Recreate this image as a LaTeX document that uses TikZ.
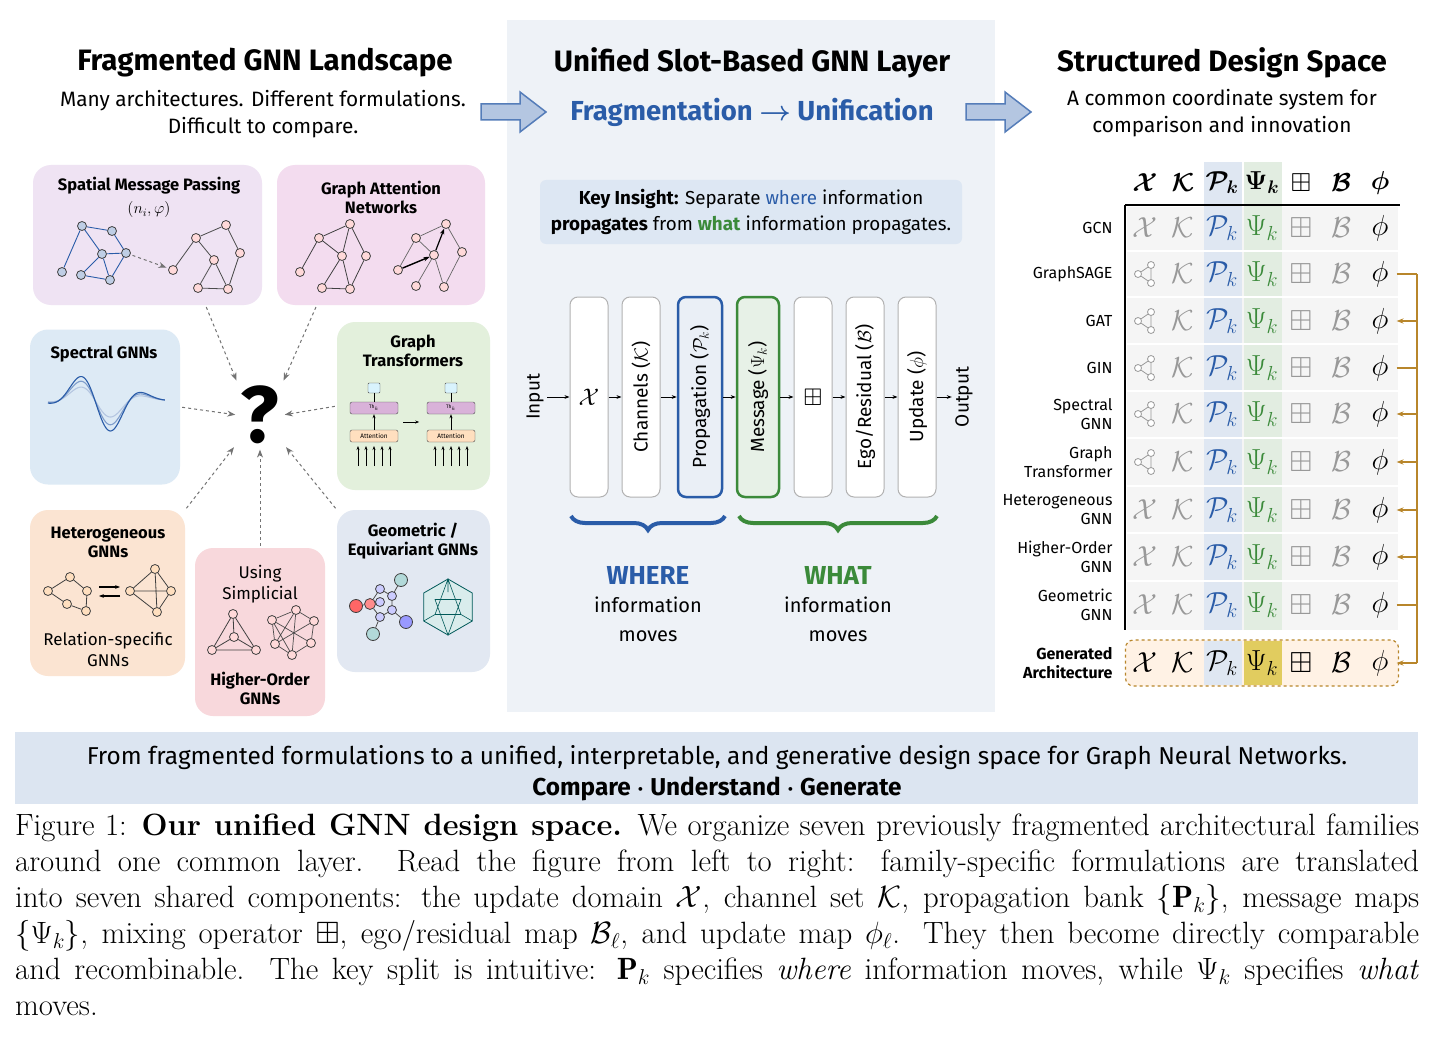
\documentclass[tikz,border=0pt]{standalone}
\usepackage{fix-cm}
\usepackage{amsmath,amssymb}
\usepackage{fontspec}
\newfontfamily\sansf{Fira Sans}
\usepackage{tikz}
\usetikzlibrary{calc,positioning,arrows.meta,decorations.pathreplacing}
\DeclareMathSizes{30.8}{30.8}{21.5}{16}

\definecolor{uniblue}{HTML}{2A5CA8}
\definecolor{unigreen}{HTML}{3B8A3A}
\definecolor{midbg}{HTML}{EEF2F7}
\definecolor{keybg}{HTML}{DDE7F3}
\definecolor{bandbg}{HTML}{DCE5F1}
\definecolor{brn}{HTML}{B8862B}
\definecolor{smpbg}{HTML}{EFE3F3}
\definecolor{gatbg}{HTML}{F3DCEF}
\definecolor{spcbg}{HTML}{DDEAF5}
\definecolor{gtbg}{HTML}{E3F0DC}
\definecolor{hetbg}{HTML}{FBE4D2}
\definecolor{simbg}{HTML}{F8D8DC}
\definecolor{geobg}{HTML}{E2E8F2}

\tikzset{
  lbox/.style={rounded corners=18pt,draw=none,inner sep=0},
  ltitle/.style={font=\sansf\bfseries\fontsize{16.5}{19}\selectfont,align=center},
  gnode/.style={circle,draw=black!75,fill=#1,inner sep=0,minimum size=9pt,line width=0.8pt},
  gnode/.default={red!15},
  dasharr/.style={dashed,line width=1pt,draw=black!55,-{Stealth[length=8pt]},shorten >=2pt,shorten <=2pt},
  bigarr/.style={draw=uniblue!80,fill=uniblue!35,line width=1.5pt},
  slot/.style={rounded corners=8pt,draw=black!30,fill=white,line width=1pt,minimum width=38pt,minimum height=200pt,inner sep=0},
  slab/.style={rotate=90,font=\sansf\fontsize{19}{22}\selectfont},
  sarr/.style={-{Stealth[length=5pt]},line width=0.9pt},
  cell/.style={font=\fontsize{29}{31}\selectfont,text=black!40,inner sep=0},
  rowlab/.style={anchor=east,align=right,font=\sansf\fontsize{16}{19}\selectfont},
  tri/.pic={
    \draw[black!40,line width=0.8pt] (-7,0) -- (6,-9) -- (6,9) -- cycle;
    \foreach \p in {(-7,0),(6,-9),(6,9)} \draw[black!40,fill=white,line width=0.8pt] \p circle (3.5);
  }
}

\begin{document}
\begin{tikzpicture}[x=1pt,y=-1pt]
\useasboundingbox (0,0) rectangle (1440,1043);
\fill[white] (0,0) rectangle (1440,1043);

% middle panel
\fill[midbg] (507,20) rectangle (995,712);

% titles
\node[font=\sansf\bfseries\fontsize{29.5}{32}\selectfont] (ttl) at (265,63) {Fragmented GNN Landscape};
\node[font=\sansf\fontsize{20.8}{27}\selectfont,align=center] (ttlsub) at (263,114) {Many architectures. Different formulations.\\Difficult to compare.};
\node[font=\sansf\bfseries\fontsize{29.5}{32}\selectfont] (mtl) at (752,63) {Unified Slot-Based GNN Layer};
\node[font=\sansf\bfseries\fontsize{27.5}{30}\selectfont,text=uniblue] (mtsub) at (752,112) {Fragmentation $\boldsymbol{\rightarrow}$ Unification};
\node[font=\sansf\bfseries\fontsize{29.5}{32}\selectfont] (rtl) at (1222,63) {Structured Design Space};
\node[font=\sansf\fontsize{20.8}{27}\selectfont,align=center] (rtsub) at (1222,113) {A common coordinate system for\\comparison and innovation};

% big arrows
\draw[bigarr] (481,104) -- (520,104) -- (520,92) -- (546,112) -- (520,132) -- (520,120) -- (481,120) -- cycle;
\draw[bigarr] (966,104) -- (1005,104) -- (1005,92) -- (1031,112) -- (1005,132) -- (1005,120) -- (966,120) -- cycle;

% ---------- left: landscape ----------
\node[lbox,fill=smpbg,minimum width=229pt,minimum height=140pt] (smp) at (147.5,235) {};
\node[ltitle] at (149,186) {Spatial Message Passing};
\node[font=\fontsize{16}{18}\selectfont] at (149,210) {$(n_i,\varphi)$};
\node[gnode=uniblue!30] (a1) at (112,231) {};
\node[gnode=uniblue!30] (a2) at (82,226) {};
\node[gnode=uniblue!30] (a3) at (62,272) {};
\node[gnode=uniblue!30] (a4) at (102,254) {};
\node[gnode=uniblue!30] (a5) at (126,253) {};
\node[gnode=uniblue!30] (a6) at (81,275) {};
\node[gnode=uniblue!30] (a7) at (110,280) {};
\draw[uniblue,line width=0.9pt] (a2) -- (a1) -- (a5) (a2) -- (a3) (a2) -- (a4) -- (a5) (a4) -- (a6) -- (a7) -- (a5) (a4) -- (a7);
\node[gnode] (b1) at (226,225) {};
\node[gnode] (b2) at (196,238) {};
\node[gnode] (b3) at (173,270) {};
\node[gnode] (b4) at (214,260) {};
\node[gnode] (b5) at (240,253) {};
\node[gnode] (b6) at (198,288) {};
\node[gnode] (b7) at (228,289) {};
\draw[black!70,line width=0.8pt] (b2) -- (b1) -- (b5) (b2) -- (b3) (b2) -- (b4) (b4) -- (b6) -- (b7) -- (b5) (b4) -- (b7);
\draw[dasharr] (a5) -- (b3);

\node[lbox,fill=gatbg,minimum width=208pt,minimum height=140pt] (gat) at (381,235) {};
\node[ltitle] at (381,197) {Graph Attention\\Networks};
\node[gnode] (c1) at (350,224) {};
\node[gnode] (c2) at (319,238) {};
\node[gnode] (c3) at (300,272) {};
\node[gnode] (c4) at (342,256) {};
\node[gnode] (c5) at (366,256) {};
\node[gnode] (c6) at (322,288) {};
\node[gnode] (c7) at (350,289) {};
\draw[black!75,line width=0.8pt] (c2) -- (c1) -- (c5) (c2) -- (c3) (c2) -- (c4) -- (c7) (c4) -- (c6) -- (c7) -- (c5) (c1) -- (c4);
\node[gnode] (d1) at (446,224) {};
\node[gnode] (d2) at (416,238) {};
\node[gnode] (d3) at (398,270) {};
\node[gnode] (d4) at (434,255) {};
\node[gnode] (d5) at (462,252) {};
\node[gnode] (d6) at (416,286) {};
\node[gnode] (d7) at (444,287) {};
\draw[black!60,line width=0.7pt] (d2) -- (d1) -- (d5) (d2) -- (d3) (d2) -- (d4) -- (d7) (d4) -- (d6) (d7) -- (d5) (d3) -- (d4);
\draw[-{Stealth[length=6pt]},line width=1.4pt] (d3) -- (d4);
\draw[-{Stealth[length=6pt]},line width=1.2pt] (d4) -- (d1);

\node[lbox,fill=spcbg,minimum width=150pt,minimum height=155pt] (spc) at (105,407) {};
\node[ltitle,anchor=west] at (47,354) {Spectral GNNs};
\foreach \amp/\col in {0.55/uniblue!35,0.8/uniblue!60,1/uniblue} {
  \draw[\col,line width=1.1pt,domain=0:1,samples=80,smooth]
    plot ({48+117*\x},{400-34*\amp*exp(-((\x-0.45)/0.3)^2)*cos(600*(\x-0.25))});
}

\node[lbox,fill=gtbg,minimum width=153pt,minimum height=168pt] (gt) at (413.5,406) {};
\node[ltitle] at (413,351) {Graph\\Transformers};
\foreach \cx/\nm in {374/ga,451/gb} {
  \node[draw=black!70,fill=cyan!15,minimum width=12pt,minimum height=10pt,inner sep=0,rounded corners=1pt] (\nm top) at (\cx,388) {};
  \node[draw=black!70,fill=violet!30,minimum width=48pt,minimum height=12pt,inner sep=0,rounded corners=2pt,font=\sansf\fontsize{5}{6}\selectfont] (\nm th) at (\cx,408) {Th$_k$};
  \node[draw=black!70,fill=orange!25,minimum width=48pt,minimum height=12pt,inner sep=0,rounded corners=2pt,font=\sansf\fontsize{6.5}{7}\selectfont] (\nm att) at (\cx,436) {Attention};
  \draw[line width=0.8pt] (\nm th) -- (\nm top);
  \draw[-{Stealth[length=4pt]},line width=0.8pt] (\nm att) -- (\nm th);
  \foreach \dx in {-16,-8,0,8,16}
    \draw[-{Stealth[length=4pt]},line width=1pt] (\cx+\dx,466) -- (\cx+\dx,446);
}
\draw[-{Stealth[length=4pt]},line width=0.8pt] (gath.east) ++(5,14) -- ++(16,0);

\node[lbox,fill=hetbg,minimum width=155pt,minimum height=166pt] (het) at (107.5,593) {};
\node[ltitle] at (108,542) {Heterogeneous\\GNNs};
\node[gnode=orange!25] (e1) at (70,577) {};
\node[gnode=orange!25] (e2) at (48,591) {};
\node[gnode=orange!25] (e3) at (87,591) {};
\node[gnode=orange!25] (e4) at (67,604) {};
\node[gnode=orange!25] (e5) at (86,611) {};
\draw[black!75,line width=0.8pt] (e2) -- (e1) -- (e3) -- (e5) -- (e4) -- (e2);
\node[gnode=orange!25] (f1) at (155,569) {};
\node[gnode=orange!25] (f2) at (130,591) {};
\node[gnode=orange!25] (f3) at (171,591) {};
\node[gnode=orange!25] (f4) at (157,612) {};
\draw[black!75,line width=0.8pt] (f2) -- (f1) -- (f3) -- (f4) -- (f2) -- (f3) (f1) -- (f4);
\draw[-{Stealth[length=5pt]},line width=1.3pt] (99,587) -- (120,587);
\draw[-{Stealth[length=5pt]},line width=1.3pt] (120,596) -- (99,596);
\node[font=\sansf\fontsize{17}{21}\selectfont,align=center] at (108,649) {Relation-specific\\GNNs};

\node[lbox,fill=simbg,minimum width=130pt,minimum height=168pt] (sim) at (260,632) {};
\node[font=\sansf\fontsize{17}{21}\selectfont,align=center] at (260,584) {Using\\Simplicial};
\node[gnode] (s1) at (233,614) {};
\node[gnode] (s2) at (212,650) {};
\node[gnode] (s3) at (256,650) {};
\node[gnode] (s4) at (234,637) {};
\draw[black!75,line width=0.8pt] (s1) -- (s2) -- (s3) -- (s1) -- (s4) (s2) -- (s4) -- (s3);
\node[gnode] (t1) at (272,620) {};
\node[gnode] (t2) at (296,610) {};
\node[gnode] (t3) at (314,621) {};
\node[gnode] (t4) at (275,644) {};
\node[gnode] (t5) at (311,643) {};
\node[gnode] (t6) at (292,655) {};
\draw[black!70,line width=0.7pt] (t1) -- (t2) -- (t3) -- (t5) -- (t6) -- (t4) -- (t1) (t1) -- (t5) (t2) -- (t4) (t2) -- (t6) (t3) -- (t4) (t1) -- (t6);
\node[ltitle] at (260,688) {Higher-Order\\GNNs};

\node[lbox,fill=geobg,minimum width=153pt,minimum height=162pt] (geo) at (413.5,591) {};
\node[ltitle] at (413,541) {Geometric /\\Equivariant GNNs};
\node[gnode=blue!20] (m0) at (380,602) {};
\node[gnode=blue!20] (m1) at (380,589) {};
\node[gnode=blue!20] (m2) at (392,596) {};
\node[gnode=blue!20] (m3) at (392,610) {};
\node[gnode=blue!20] (m4) at (380,617) {};
\node[gnode=red!45,minimum size=11pt] (m5) at (370,604) {};
\node[gnode=red!60,minimum size=13pt] (m6) at (356,606) {};
\node[gnode=teal!30,minimum size=13pt] (m7) at (373,634) {};
\node[gnode=teal!30,minimum size=13pt] (m8) at (401,580) {};
\node[gnode=blue!40,minimum size=13pt] (m9) at (406,622) {};
\draw[black!70,line width=0.8pt] (m1) -- (m2) -- (m3) -- (m4) -- (m5) -- (m1) (m5) -- (m6) (m4) -- (m7) (m2) -- (m8) (m3) -- (m9);
\coordinate (ic) at (448,607);
\draw[teal!70!black,fill=teal!15,line width=0.8pt] ($(ic)+(90:28)$) \foreach \a in {150,210,...,450} { -- ($(ic)+(\a:28)$) } -- cycle;
\draw[teal!70!black,line width=0.6pt] ($(ic)+(90:28)$) -- ($(ic)+(210:15)$) -- ($(ic)+(330:15)$) -- cycle
  ($(ic)+(270:28)$) -- ($(ic)+(30:15)$) -- ($(ic)+(150:15)$) -- cycle
  ($(ic)+(150:28)$) -- ($(ic)+(150:15)$) ($(ic)+(30:28)$) -- ($(ic)+(30:15)$) ($(ic)+(270:28)$) -- ($(ic)+(270:15)$);

\node[font=\sansf\bfseries\fontsize{80}{80}\selectfont] (qm) at (260,415) {?};
\draw[dasharr] (smp.south) ++(58,0) coordinate (smpo) (smpo) -- (qm.north west);
\draw[dasharr] ($(gat.south west)+(40,0)$) -- (qm.north east);
\draw[dasharr] (spc.east) -- (qm.west);
\draw[dasharr] (gt.west) -- (qm.east);
\draw[dasharr] (het.north east) -- ($(qm.south west)+(-2,-2)$);
\draw[dasharr] (sim.north) -- (qm.south);
\draw[dasharr] (geo.north west) -- ($(qm.south east)+(2,-2)$);

% ---------- middle: slots ----------
\node[fill=keybg,rounded corners=6pt,minimum width=422pt,minimum height=64pt,font=\sansf\fontsize{18.8}{26}\selectfont,align=center] (key) at (751,212)
  {\textbf{Key Insight:} Separate {\color{uniblue}where} information\\\textbf{propagates} from {\color{unigreen}\textbf{what}} information propagates.};

\node[slab] (inp) at (535,397) {Input};
\node[slot] (sx) at (589,397) {};
\node[font=\fontsize{24}{26}\selectfont] at (sx) {$\mathcal{X}$};
\node[slot] (sch) at (641,397) {};
\node[slab] at (sch) {Channels ($\mathcal{K}$)};
\node[slot,draw=uniblue,fill=uniblue!10,line width=2.5pt,minimum width=44pt] (spr) at (700,397) {};
\node[slab] at (spr) {Propagation ($\mathcal{P}_k$)};
\node[slot,draw=unigreen,fill=unigreen!12,line width=2.5pt,minimum width=42pt] (smg) at (758,397) {};
\node[slab] at (smg) {Message ($\Psi_k$)};
\node[slot] (smx) at (813,397) {};
\node[font=\fontsize{24}{26}\selectfont] at (smx) {$\boxplus$};
\node[slot] (seg) at (865,397) {};
\node[slab] at (seg) {Ego/Residual ($\mathcal{B}$)};
\node[slot] (sup) at (917,397) {};
\node[slab] at (sup) {Update ($\phi$)};
\node[slab] (outp) at (964,397) {Output};
\draw[sarr] (inp) -- (sx);
\draw[sarr] (sx) -- (sch);
\draw[sarr] (sch) -- (spr);
\draw[sarr] (spr) -- (smg);
\draw[sarr] (smg) -- (smx);
\draw[sarr] (smx) -- (seg);
\draw[sarr] (seg) -- (sup);
\draw[sarr] (sup) -- (outp);

\coordinate (wb1) at (571,516);
\coordinate (wb2) at (725,516);
\coordinate (hb1) at (739,516);
\coordinate (hb2) at (937,516);
\draw[uniblue,line width=4pt,decorate,decoration={brace,mirror,amplitude=14pt}] (wb1) -- (wb2);
\draw[unigreen,line width=4pt,decorate,decoration={brace,mirror,amplitude=14pt}] (hb1) -- (hb2);
\node[font=\sansf\fontsize{20}{28.5}\selectfont,align=center] (where) at (648,604) {{\color{uniblue}\bfseries\fontsize{26}{28.5}\selectfont WHERE}\\information\\moves};
\node[font=\sansf\fontsize{20}{28.5}\selectfont,align=center] (what) at (838,604) {{\color{unigreen}\bfseries\fontsize{26}{28.5}\selectfont WHAT}\\information\\moves};

% ---------- right: design table ----------
\fill[black!4] (1127,207) rectangle (1398,630);
\fill[uniblue!15] (1204,162) rectangle (1242,630);
\fill[unigreen!15] (1244,162) rectangle (1282,630);
\foreach \yy in {251,297,344,391,438,486,533,581}
  \draw[white,line width=1.5pt] (1127,\yy) -- (1398,\yy);
\draw[line width=1.2pt] (1125,205) -- (1400,205);
\draw[line width=1.2pt] (1125,205) -- (1125,630);
\foreach \cx/\sym in {1145/\mathcal{X},1183/\mathcal{K},1222/\mathcal{P}_k,1262/\Psi_k,1301/\boxplus,1341/\mathcal{B},1380/\phi}
  \node[cell,text=black,font=\fontsize{26}{28}\selectfont] at (\cx,183) {$\boldsymbol{\sym}$};
\foreach \lab/\yy/\ic/\ar [count=\i] in {GCN/228/0/0,GraphSAGE/274/1/1,GAT/321/1/2,GIN/368/1/1,{Spectral\\GNN}/414/1/2,{Graph\\Transformer}/462/1/2,{Heterogeneous\\GNN}/510/0/2,{Higher-Order\\GNN}/557/0/2,{Geometric\\GNN}/605/0/1} {
  \node[rowlab] (row\i) at (1116,\yy) {\lab};
  \ifnum\ic=1 \pic at (1145,\yy) {tri}; \else \node[cell] at (1145,\yy) {$\mathcal{X}$}; \fi
  \node[cell] at (1183,\yy) {$\mathcal{K}$};
  \node[cell,text=uniblue] at (1222,\yy) {$\mathcal{P}_k$};
  \node[cell,text=unigreen] at (1262,\yy) {$\Psi_k$};
  \node[cell] at (1301,\yy) {$\boxplus$};
  \node[cell] at (1341,\yy) {$\mathcal{B}$};
  \node[cell,text=black] (phi\i) at (1380,\yy) {$\phi$};
  \coordinate (rail\i) at (1417,\yy);
  \ifnum\ar=1 \draw[brn,line width=1.2pt] (phi\i.east) ++(8,0) -- (rail\i); \fi
  \ifnum\ar=2 \draw[brn,line width=1.2pt,-{Stealth[length=7pt]}] (rail\i) -- ($(phi\i.east)+(8,0)$); \fi
}
\node[draw=brn,dashed,fill=orange!10,rounded corners=8pt,line width=1.2pt,minimum width=273pt,minimum height=46pt] (gen) at (1262,663) {};
\fill[uniblue!15] (1204,641) rectangle (1242,685);
\fill[brn!60!yellow!70] (1244,641) rectangle (1282,685);
\node[rowlab,font=\sansf\bfseries\fontsize{16}{19}\selectfont] (rowgen) at (1116,663) {Generated\\Architecture};
\foreach \cx/\sym in {1145/\mathcal{X},1183/\mathcal{K},1222/\mathcal{P}_k,1262/\Psi_k,1301/\boxplus,1341/\mathcal{B}} {
  \node[cell,text=black] at (\cx,663) {$\sym$};
}
\node[cell,text=black] (phig) at (1380,663) {$\phi$};
\coordinate (railg) at (1417,663);
\draw[brn,line width=1.2pt] (rail2) -- (railg);
\draw[brn,line width=1.2pt,-{Stealth[length=7pt]}] (railg) -- ($(phig.east)+(8,0)$);

% ---------- bottom band and caption ----------
\fill[bandbg] (15,732) rectangle (1418,804);
\node[font=\sansf\fontsize{24.4}{31}\selectfont,align=center] (band) at (717,773) {From fragmented formulations to a unified, interpretable, and generative design space for Graph Neural Networks.\\\textbf{Compare $\boldsymbol{\cdot}$ Understand $\boldsymbol{\cdot}$ Generate}};

\node[anchor=north west,inner sep=0,text width=1404pt,align=justify,font=\fontsize{30.8}{36}\selectfont] (cap) at (15,814)
{\hyphenpenalty=10000 Figure 1: \textbf{Our unified GNN design space.} We organize seven previously fragmented architectural families\linebreak{} around one common layer. Read the figure from left to right: family-specific formulations are translated\linebreak{} into seven shared components: the update domain $\mathcal{X}$, channel set $\mathcal{K}$, propagation bank $\{\mathbf{P}_k\}$, message maps\linebreak{} $\{\Psi_k\}$, mixing operator $\boxplus$, ego/residual map $\mathcal{B}_\ell$, and update map $\phi_\ell$. They then become directly comparable\linebreak{} and recombinable. The key split is intuitive: $\mathbf{P}_k$ specifies \emph{where} information moves, while $\Psi_k$ specifies \emph{what}\linebreak{} moves.\par};
\end{tikzpicture}
\end{document}
